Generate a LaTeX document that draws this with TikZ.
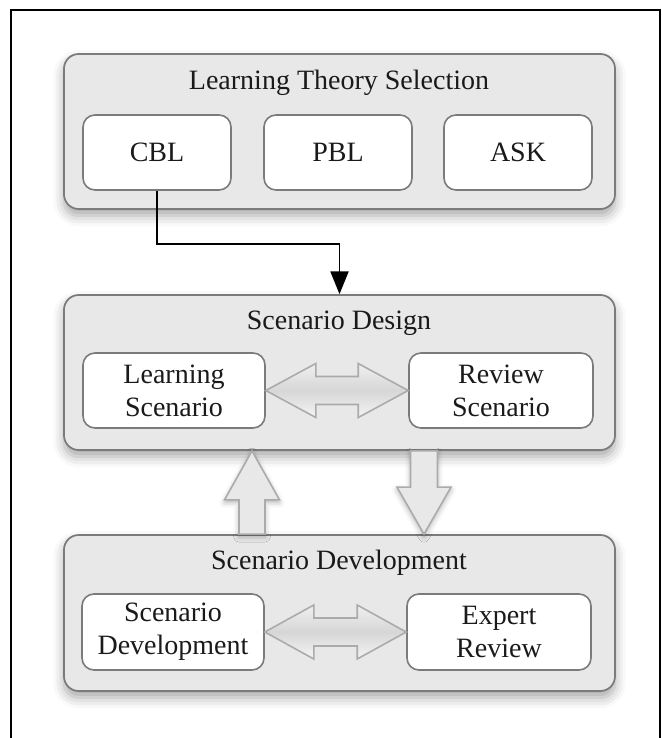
\documentclass[tikz,border=0pt]{standalone}
\usepackage{fontspec}
\setmainfont{Liberation Serif}
\usetikzlibrary{arrows.meta,shadows.blur,calc}
\definecolor{boxfill}{HTML}{E8E8E8}
\definecolor{boxline}{HTML}{7B7B7B}
\definecolor{arrline}{HTML}{ABABAB}
\definecolor{txt}{HTML}{1A1A1A}
\begin{document}
\begin{tikzpicture}[x=0.75pt,y=-0.75pt,
  every node/.style={text=txt},
  mainbox/.style={draw=boxline, line width=1.3pt, fill=boxfill, rounded corners=11pt,
    minimum width=413.25pt, minimum height=116.25pt, inner sep=0pt,
    blur shadow={shadow xshift=0pt, shadow yshift=-5pt, shadow blur radius=8pt, shadow opacity=35}},
  title/.style={font=\fontsize{21}{24.75}\selectfont, inner sep=0pt},
  inbox/.style={draw=boxline, line width=1.2pt, fill=white, rounded corners=9pt,
    minimum height=56.25pt, inner sep=0pt, align=center,
    font=\fontsize{21}{24.75}\selectfont},
  dblk/.style={draw=arrline, line width=1.2pt, top color=black!6, bottom color=black!4, middle color=black!16},
  vblk/.style={draw=arrline, line width=1.2pt, fill=black!9,
    blur shadow={shadow xshift=0pt, shadow yshift=-2pt, shadow blur radius=4pt, shadow opacity=30}},
  conn/.style={draw=black, line width=1.4pt, -{Triangle[length=17pt,width=13.5pt]}}
]
\useasboundingbox (0,0) rectangle (661,738);
% outer frame (open at the bottom)
\draw[line width=1.2pt] (11,738) -- (11,10) -- (660,10) -- (660,738);

% main boxes
\node[mainbox] (b1) at (339.5,131.5) {};
\node[mainbox] (b2) at (339.5,372.5) {};
\node[mainbox, minimum height=117pt] (b3) at (339.5,613) {};

% titles
\node[title] (t1) at (339,83) {Learning Theory Selection};
\node[title] (t2) at (339,323) {Scenario Design};
\node[title] (t3) at (339,563) {Scenario Development};

% inner boxes
\node[inbox, minimum width=111pt] (cbl) at (157,152.5) {CBL};
\node[inbox, minimum width=111pt] (pbl) at (338,152.5) {PBL};
\node[inbox, minimum width=111pt] (ask) at (518,152.5) {ASK};

\node[inbox, minimum width=136.5pt] (ls) at (174,390.5) {Learning\\Scenario};
\node[inbox, minimum width=138pt] (rs) at (501,390.5) {Review\\Scenario};

\node[inbox, minimum width=136.5pt, minimum height=57pt] (sd) at (173,632) {Scenario\\Development};
\node[inbox, minimum width=138pt, minimum height=57pt] (er) at (499,632) {Expert\\Review};

% connector CBL -> Scenario Design
\draw[conn] (cbl.south) -- ++(0,53) -| (b2.north);

% double block arrows
\draw[dblk] (ls.east) -- ([shift={(50,-27)}]ls.east) -- ([shift={(50,-14)}]ls.east)
  -- ([shift={(-50,-14)}]rs.west) -- ([shift={(-50,-27)}]rs.west) -- (rs.west)
  -- ([shift={(-50,27)}]rs.west) -- ([shift={(-50,14)}]rs.west)
  -- ([shift={(50,14)}]ls.east) -- ([shift={(50,27)}]ls.east) -- cycle;
\draw[dblk] (sd.east) -- ([shift={(49,-27)}]sd.east) -- ([shift={(49,-14)}]sd.east)
  -- ([shift={(-49,-14)}]er.west) -- ([shift={(-49,-27)}]er.west) -- (er.west)
  -- ([shift={(-49,27)}]er.west) -- ([shift={(-49,14)}]er.west)
  -- ([shift={(49,14)}]sd.east) -- ([shift={(49,27)}]sd.east) -- cycle;

% vertical block arrows
\coordinate (upt) at (252,0 |- b2.south);
\coordinate (upb) at (252,0 |- b3.north);
\coordinate (dnt) at (424,0 |- b2.south);
\coordinate (dnb) at (424,0 |- b3.north);
\draw[vblk] (upt) -- ([shift={(27.5,49)}]upt) -- ([shift={(13,49)}]upt) -- ([shift={(13,0)}]upb)
  -- ([shift={(-13,0)}]upb) -- ([shift={(-13,49)}]upt) -- ([shift={(-27.5,49)}]upt) -- cycle;
\draw[vblk] (dnb) -- ([shift={(27,-47)}]dnb) -- ([shift={(13.5,-47)}]dnb) -- ([shift={(13.5,0)}]dnt)
  -- ([shift={(-13.5,0)}]dnt) -- ([shift={(-13.5,-47)}]dnb) -- ([shift={(-27,-47)}]dnb) -- cycle;
\end{tikzpicture}
\end{document}
